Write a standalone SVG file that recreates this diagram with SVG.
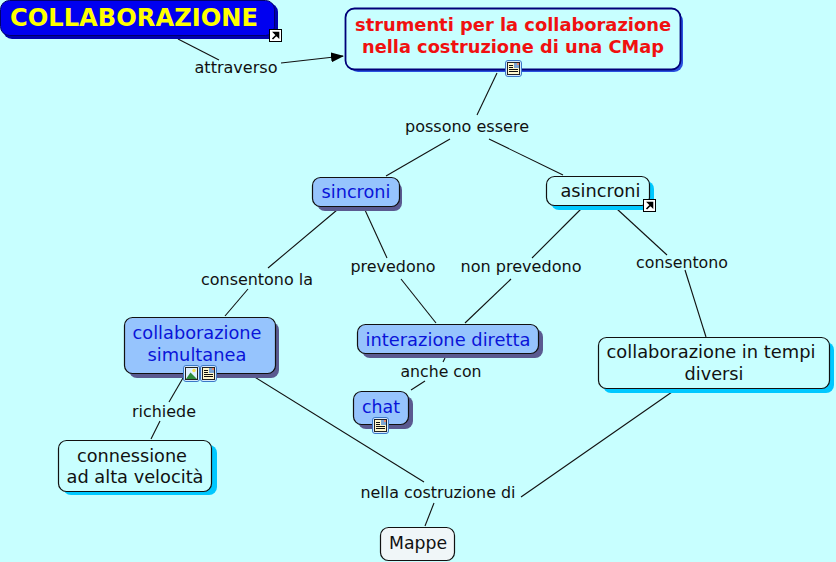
<svg xmlns="http://www.w3.org/2000/svg" width="836" height="562" viewBox="0 0 836 562">
<style>
text{font-family:"DejaVu Sans",Verdana,sans-serif;text-anchor:middle;font-size:16px;fill:#111}
.blue text,text.blue{fill:#0a14d8;font-size:17.5px}
.n{stroke:#111;stroke-width:1.2}
.sb{fill:#5a5a90}.sc{fill:#00c8ff}
.fb{fill:#96c4fd}.fw{fill:#c8ffff}
.c{stroke:#111;stroke-width:1.1;fill:none}
</style>
<defs>
<symbol id="link" width="13" height="13" viewBox="0 0 13 13" overflow="visible"><rect x=".5" y=".5" width="12" height="12" fill="#fff" stroke="#000"/><path d="M3.5 10 L8 5.5 M5 3.5 H9.5 V8 Z" fill="#000" stroke="#000" stroke-width="1.6"/></symbol>
<symbol id="doc" width="17" height="17" viewBox="0 0 17 17"><rect x=".5" y=".5" width="16" height="16" rx="2.500" fill="#d8eafc" stroke="#3a78c8" stroke-width="1"/><rect x="2.500" y="2.500" width="12" height="12" fill="#fff8cc" stroke="#222" stroke-width="1"/><path d="M4 5.500H8M4 7.500H8M4 9.500H13M4 11.500H13" stroke="#111" stroke-width="1"/><rect x="9" y="3" width="5" height="5" fill="#7da6d4"/><rect x="12" y="3" width="2" height="2" fill="#e88a70"/></symbol>
<symbol id="img" width="17" height="17" viewBox="0 0 17 17"><rect x=".5" y=".5" width="16" height="16" rx="2.500" fill="#d8eafc" stroke="#3a78c8" stroke-width="1"/><rect x="2.500" y="2.500" width="12" height="12" fill="#dff0ff" stroke="#222" stroke-width="1"/><circle cx="11" cy="5.500" r="1.700" fill="#f5e050"/><path d="M3 14L7.500 7.500L14 14Z" fill="#2f8a3a"/></symbol>
<marker id="arrow" markerUnits="userSpaceOnUse" markerWidth="13" markerHeight="10" refX="12" refY="5" orient="auto"><path d="M0 0L13 5L0 10Z" fill="#000"/></marker>
</defs>
<rect width="836" height="562" fill="#c8ffff"/>
<g id="connectors">
<path class="c" d="M178 39L219 60"/>
<path class="c" d="M281 63L343 56" marker-end="url(#arrow)"/>
<path class="c" d="M497 73L477 115"/>
<path class="c" d="M450 139L386 176"/>
<path class="c" d="M489 139L563 175"/>
<path class="c" d="M337 210L268 268"/>
<path class="c" d="M248 289L225 316"/>
<path class="c" d="M365 210L387 258"/>
<path class="c" d="M401 279L436 323"/>
<path class="c" d="M581 209L532 258"/>
<path class="c" d="M511 279L465 323"/>
<path class="c" d="M617 209L667 255"/>
<path class="c" d="M685 270L706 337"/>
<path class="c" d="M445 358L443 362"/>
<path class="c" d="M425 381L411 390"/>
<path class="c" d="M183 378L169 402"/>
<path class="c" d="M160 421L151 439"/>
<path class="c" d="M253 376L424 482"/>
<path class="c" d="M434 503L425 526"/>
<path class="c" d="M521 497L672 392"/>
</g>
<g id="node-collaborazione">
<rect x="3" y="3" width="275" height="36" rx="9" fill="#0000b0"/>
<rect x="0.500" y="0.500" width="274" height="35" rx="9" fill="#0000f0" stroke="#00006a"/>
<text x="134" y="26" style="font-size:24px;font-weight:700;fill:#ffff00" textLength="248" lengthAdjust="spacingAndGlyphs">COLLABORAZIONE</text>
<use href="#link" x="269" y="29"/>
</g>
<g id="node-strumenti">
<rect x="349" y="12" width="334" height="60" rx="9" fill="#2a50e0"/>
<rect x="345.500" y="8.500" width="335" height="61" rx="9" fill="#c8ffff" stroke="#00007a" stroke-width="1.800"/>
<text x="513" y="31" style="font-size:17px;font-weight:700;fill:#f01010" textLength="316" lengthAdjust="spacingAndGlyphs">strumenti per la collaborazione</text>
<text x="513" y="53" style="font-size:17px;font-weight:700;fill:#f01010" textLength="302" lengthAdjust="spacingAndGlyphs">nella costruzione di una CMap</text>
<use href="#doc" x="505" y="60"/>
</g>
<g id="node-sincroni">
<rect x="317" y="182" width="85" height="29" rx="8" class="sb"/>
<rect x="312.500" y="177.500" width="87" height="29" rx="8" class="n fb"/>
<text class="blue" x="356" y="198" textLength="69" lengthAdjust="spacingAndGlyphs">sincroni</text>
</g>
<g id="node-asincroni">
<rect x="551" y="181" width="103" height="29" rx="8" class="sc"/>
<rect x="546.500" y="176.500" width="103" height="29" rx="8" class="n fw"/>
<text x="600.500" y="197" style="font-size:17.500px" textLength="80" lengthAdjust="spacingAndGlyphs">asincroni</text>
<use href="#link" x="643" y="199"/>
</g>
<g id="node-simultanea">
<rect x="129" y="322" width="150" height="56" rx="8" class="sb"/>
<rect x="124.500" y="317.500" width="151" height="56" rx="8" class="n fb"/>
<text class="blue" x="197" y="339" textLength="129" lengthAdjust="spacingAndGlyphs">collaborazione</text>
<text class="blue" x="197" y="361" textLength="99" lengthAdjust="spacingAndGlyphs">simultanea</text>
<use href="#img" x="183" y="365"/>
<use href="#doc" x="200" y="365"/>
</g>
<g id="node-interazione">
<rect x="362" y="329" width="181" height="29" rx="8" class="sb"/>
<rect x="357.500" y="324.500" width="181" height="29" rx="8" class="n fb"/>
<text class="blue" x="448" y="346" textLength="165" lengthAdjust="spacingAndGlyphs">interazione diretta</text>
</g>
<g id="node-tempi">
<rect x="603" y="342" width="231" height="51" rx="8" class="sc"/>
<rect x="598.500" y="337.500" width="231" height="51" rx="8" class="n fw"/>
<text x="711" y="358" style="font-size:17.500px" textLength="209" lengthAdjust="spacingAndGlyphs">collaborazione in tempi</text>
<text x="714" y="380" style="font-size:17.500px" textLength="59" lengthAdjust="spacingAndGlyphs">diversi</text>
</g>
<g id="node-chat">
<rect x="358" y="396" width="55" height="33" rx="8" class="sb"/>
<rect x="353.500" y="391.500" width="55" height="33" rx="8" class="n fb"/>
<text class="blue" x="381" y="413" textLength="38" lengthAdjust="spacingAndGlyphs">chat</text>
<use href="#doc" x="372" y="417"/>
</g>
<g id="node-connessione">
<rect x="63" y="445" width="154" height="50" rx="8" class="sc"/>
<rect x="58.500" y="440.500" width="153" height="51" rx="8" class="n fw"/>
<text x="132" y="462" style="font-size:17.500px" textLength="110" lengthAdjust="spacingAndGlyphs">connessione</text>
<text x="135" y="483" style="font-size:17.500px" textLength="137" lengthAdjust="spacingAndGlyphs">ad alta velocità</text>
</g>
<g id="node-mappe">
<rect x="380.500" y="527.500" width="74" height="33" rx="8" fill="#f0f6f8" stroke="#111" stroke-width="1.200"/>
<text x="418" y="549" style="font-size:17.500px" textLength="58" lengthAdjust="spacingAndGlyphs">Mappe</text>
</g>
<g id="labels">
<text x="236" y="73" textLength="83" lengthAdjust="spacingAndGlyphs">attraverso</text>
<text x="467" y="132" textLength="124" lengthAdjust="spacingAndGlyphs">possono essere</text>
<text x="257" y="285" textLength="112" lengthAdjust="spacingAndGlyphs">consentono la</text>
<text x="393" y="272" textLength="85" lengthAdjust="spacingAndGlyphs">prevedono</text>
<text x="521" y="272" textLength="121" lengthAdjust="spacingAndGlyphs">non prevedono</text>
<text x="682" y="268" textLength="92" lengthAdjust="spacingAndGlyphs">consentono</text>
<text x="441" y="377" textLength="81" lengthAdjust="spacingAndGlyphs">anche con</text>
<text x="164" y="417" textLength="64" lengthAdjust="spacingAndGlyphs">richiede</text>
<text x="438" y="498" textLength="155" lengthAdjust="spacingAndGlyphs">nella costruzione di</text>
</g>
</svg>
